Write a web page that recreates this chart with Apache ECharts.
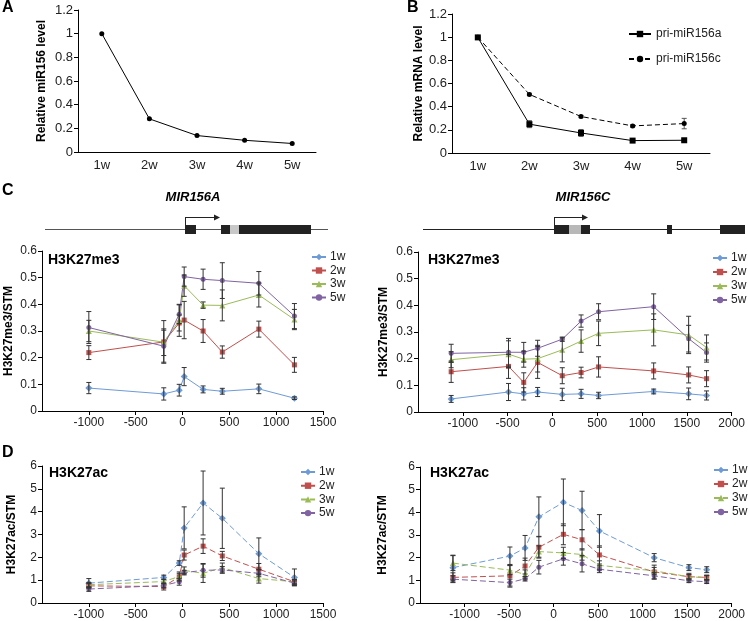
<!DOCTYPE html>
<html><head><meta charset="utf-8">
<script src="https://cdn.jsdelivr.net/npm/echarts@6/dist/echarts.min.js"></script>
<style>html,body{margin:0;padding:0;background:#fff}#c{width:748px;height:621px}</style>
</head><body><div id="c"></div>
<script>
// ---- Panel A ----
const weeks = ['1w','2w','3w','4w','5w'];
const mir156 = [1.0, 0.28, 0.139, 0.099, 0.072];
// ---- Panel B ----
const priA = [0.998, 0.249, 0.173, 0.107, 0.11];
const priAErr = [0.01, 0.03, 0.03, 0.01, 0.01];
const priC = [1.0, 0.506, 0.315, 0.234, 0.254];
const priCErr = [0.01, 0.01, 0.01, 0.01, 0.045];
// ---- positions (bp) ----
const posA = [-1000, -200, -35, 18, 220, 425, 815, 1195];
const posC = [-1130, -490, -320, -165, 110, 320, 515, 1130, 1520, 1720];
const groups = ['1w','2w','3w','5w'];
// ---- Panel C left: H3K27me3 at MIR156A ----
const me3A_1w = [0.086, 0.064, 0.078, 0.129, 0.081, 0.074, 0.083, 0.048];
const me3A_1wErr = [0.021, 0.023, 0.022, 0.034, 0.013, 0.011, 0.018, 0.005];
const me3A_2w = [0.219, 0.259, 0.33, 0.341, 0.300, 0.221, 0.307, 0.173];
const me3A_2wErr = [0.026, 0.08, 0.03, 0.07, 0.043, 0.023, 0.03, 0.028];
const me3A_3w = [0.300, 0.258, 0.340, 0.470, 0.397, 0.396, 0.435, 0.343];
const me3A_3wErr = [0.04, 0.05, 0.06, 0.04, 0.012, 0.058, 0.045, 0.038];
const me3A_5w = [0.313, 0.243, 0.363, 0.504, 0.494, 0.489, 0.479, 0.356];
const me3A_5wErr = [0.06, 0.06, 0.035, 0.036, 0.038, 0.067, 0.044, 0.047];
// ---- Panel C right: H3K27me3 at MIR156C ----
const me3C_1w = [0.049, 0.075, 0.068, 0.075, 0.066, 0.068, 0.062, 0.077, 0.068, 0.062];
const me3C_1wErr = [0.013, 0.032, 0.023, 0.017, 0.023, 0.017, 0.012, 0.009, 0.022, 0.017];
const me3C_2w = [0.151, 0.171, 0.111, 0.186, 0.136, 0.148, 0.169, 0.154, 0.139, 0.125];
const me3C_2wErr = [0.04, 0.045, 0.036, 0.06, 0.03, 0.02, 0.038, 0.03, 0.03, 0.03];
const me3C_3w = [0.196, 0.217, 0.198, 0.200, 0.233, 0.266, 0.295, 0.308, 0.289, 0.242];
const me3C_3wErr = [0.03, 0.05, 0.03, 0.05, 0.045, 0.042, 0.046, 0.06, 0.07, 0.047];
const me3C_5w = [0.220, 0.224, 0.224, 0.239, 0.273, 0.341, 0.376, 0.395, 0.275, 0.223];
const me3C_5wErr = [0.034, 0.052, 0.037, 0.03, 0.008, 0.023, 0.03, 0.048, 0.05, 0.036];
// ---- Panel D left: H3K27ac at MIR156A ----
const acA_1w = [0.87, 1.12, 1.75, 3.29, 4.38, 3.71, 2.16, 1.12];
const acA_1wErr = [0.2, 0.1, 0.1, 0.92, 1.4, 1.32, 0.69, 0.37];
const acA_2w = [0.75, 0.72, 1.15, 2.10, 2.49, 2.06, 1.48, 0.93];
const acA_2wErr = [0.1, 0.15, 0.15, 0.22, 0.32, 0.2, 0.25, 0.1];
const acA_3w = [0.80, 0.94, 1.16, 1.43, 1.30, 1.55, 1.07, 0.93];
const acA_3wErr = [0.1, 0.1, 0.2, 0.15, 0.4, 0.2, 0.2, 0.1];
const acA_5w = [0.61, 0.77, 0.93, 1.33, 1.43, 1.45, 1.30, 0.87];
const acA_5wErr = [0.1, 0.1, 0.15, 0.1, 0.3, 0.15, 0.15, 0.1];
// ---- Panel D right: H3K27ac at MIR156C ----
const acC_1w = [1.56, 2.07, 2.43, 3.80, 4.44, 4.08, 3.18, 2.00, 1.56, 1.47];
const acC_1wErr = [0.55, 0.4, 0.55, 0.88, 1.03, 0.85, 0.72, 0.18, 0.13, 0.13];
const acC_2w = [1.13, 1.20, 1.63, 2.46, 3.03, 2.79, 2.12, 1.37, 1.16, 1.13];
const acC_2wErr = [0.2, 0.5, 0.35, 0.48, 0.46, 0.45, 0.4, 0.3, 0.15, 0.1];
const acC_3w = [1.76, 1.45, 1.26, 2.27, 2.21, 2.14, 1.66, 1.42, 1.16, 1.11];
const acC_3wErr = [0.33, 0.2, 0.2, 0.25, 0.25, 0.25, 0.2, 0.15, 0.1, 0.1];
const acC_5w = [1.05, 0.90, 1.07, 1.58, 1.95, 1.73, 1.49, 1.20, 0.98, 0.94];
const acC_5wErr = [0.15, 0.15, 0.1, 0.3, 0.28, 0.36, 0.15, 0.15, 0.08, 0.08];

// ---------- build ----------
const FONT = 'Liberation Sans, Arial, sans-serif';
const colors = ['#6E9BD6', '#C0504D', '#9BBB59', '#8064A2'];
const symbols = ['diamond', 'rect', 'triangle', 'circle'];
const symSize = [7, 5, 6, 5];
const ERR = '#333333';

const chart = echarts.init(document.getElementById('c'));

const grids = [
  {left: 78, top: 10, width: 238, height: 142},
  {left: 452, top: 14, width: 258, height: 139},
  {left: 42, top: 251, width: 281, height: 160},
  {left: 418, top: 252, width: 314, height: 160},
  {left: 42, top: 466, width: 281, height: 138},
  {left: 420, top: 467, width: 312, height: 138}
];

function mkLine() { return {show: true, onZero: false, lineStyle: {color: '#000', width: 1}}; }
function mkTick() { return {show: true, inside: false, length: 4, lineStyle: {color: '#000'}}; }

function yAx(gi, max, interval, name, nameGap, fs) {
  return {type: 'value', gridIndex: gi, min: 0, max: max, interval: interval,
    name: name, nameLocation: 'middle', nameGap: nameGap, nameRotate: 90,
    nameTextStyle: {fontFamily: FONT, fontWeight: 'bold', fontSize: 12, color: '#000'},
    axisLine: mkLine(), axisTick: mkTick(), splitLine: {show: false},
    axisLabel: {fontFamily: FONT, fontSize: fs, color: '#222', margin: 5}};
}
function xVal(gi, max) {
  return {type: 'value', gridIndex: gi, min: -1500, max: max, interval: 500,
    axisLine: mkLine(), axisTick: mkTick(), splitLine: {show: false},
    axisLabel: {fontFamily: FONT, fontSize: 12, color: '#222', margin: 6, showMinLabel: false,
      formatter: v => String(v)}};
}
function xCat(gi) {
  return {type: 'category', gridIndex: gi, data: weeks, boundaryGap: true,
    axisLine: mkLine(), axisTick: {show: false}, splitLine: {show: false},
    axisLabel: {fontFamily: FONT, fontSize: 13, color: '#222', margin: 7}};
}

const xAxes = [xCat(0), xCat(1), xVal(2, 1500), xVal(3, 2000), xVal(4, 1500), xVal(5, 2000)];
const yAxes = [
  yAx(0, 1.2, 0.2, 'Relative miR156 level', 30, 13),
  yAx(1, 1.2, 0.2, 'Relative mRNA level', 27, 13),
  yAx(2, 0.6, 0.1, 'H3K27me3/STM', 27, 12),
  yAx(3, 0.6, 0.1, 'H3K27me3/STM', 28, 12),
  yAx(4, 6, 1, 'H3K27ac/STM', 24, 12),
  yAx(5, 6, 1, 'H3K27ac/STM', 31, 12)
];

function errSeries(gi, xs, ys, es, color) {
  return {type: 'custom', xAxisIndex: gi, yAxisIndex: gi, z: 3, silent: true,
    data: xs.map((x, i) => [x, ys[i], es[i]]),
    encode: {x: 0, y: 1},
    renderItem: function (params, api) {
      const x = api.value(0), y = api.value(1), e = api.value(2);
      const t = api.coord([x, y + e]), b = api.coord([x, y - e]);
      const w = 2.5;
      const st = {stroke: color || ERR, lineWidth: 1};
      return {type: 'group', children: [
        {type: 'line', shape: {x1: t[0], y1: t[1], x2: b[0], y2: b[1]}, style: st},
        {type: 'line', shape: {x1: t[0] - w, y1: t[1], x2: t[0] + w, y2: t[1]}, style: st},
        {type: 'line', shape: {x1: b[0] - w, y1: b[1], x2: b[0] + w, y2: b[1]}, style: st}
      ]};
    }};
}

const series = [];
// Panel A
series.push({type: 'line', name: 'A', xAxisIndex: 0, yAxisIndex: 0, data: mir156,
  symbol: 'circle', symbolSize: 5, itemStyle: {color: '#000'}, lineStyle: {color: '#000', width: 1}});
// Panel B
series.push(errSeries(1, [0,1,2,3,4], priA, priAErr, '#555'));
series.push(errSeries(1, [0,1,2,3,4], priC, priCErr, '#555'));
series.push({type: 'line', name: 'pri-miR156a', xAxisIndex: 1, yAxisIndex: 1, data: priA, z: 4,
  symbol: 'rect', symbolSize: 6, itemStyle: {color: '#000'}, lineStyle: {color: '#000', width: 1}});
series.push({type: 'line', name: 'pri-miR156c', xAxisIndex: 1, yAxisIndex: 1, data: priC, z: 4,
  symbol: 'circle', symbolSize: 5, itemStyle: {color: '#000'}, lineStyle: {color: '#000', width: 1, type: [5, 3]}});

const panels = [
  {gi: 2, tag: 'Cl', xs: posA, dashed: false, vals: [me3A_1w, me3A_2w, me3A_3w, me3A_5w], errs: [me3A_1wErr, me3A_2wErr, me3A_3wErr, me3A_5wErr]},
  {gi: 3, tag: 'Cr', xs: posC, dashed: false, vals: [me3C_1w, me3C_2w, me3C_3w, me3C_5w], errs: [me3C_1wErr, me3C_2wErr, me3C_3wErr, me3C_5wErr]},
  {gi: 4, tag: 'Dl', xs: posA, dashed: true, vals: [acA_1w, acA_2w, acA_3w, acA_5w], errs: [acA_1wErr, acA_2wErr, acA_3wErr, acA_5wErr]},
  {gi: 5, tag: 'Dr', xs: posC, dashed: true, vals: [acC_1w, acC_2w, acC_3w, acC_5w], errs: [acC_1wErr, acC_2wErr, acC_3wErr, acC_5wErr]}
];
panels.forEach(p => {
  p.vals.forEach((v, k) => {
    series.push({type: 'line', name: p.tag + '|' + groups[k], xAxisIndex: p.gi, yAxisIndex: p.gi, z: 2,
      data: p.xs.map((x, i) => [x, v[i]]),
      symbol: symbols[k], symbolSize: symSize[k],
      itemStyle: {color: colors[k]},
      lineStyle: {color: colors[k], width: 1, type: p.dashed ? [6, 3] : 'solid'}});
  });
  p.vals.forEach((v, k) => { series.push(errSeries(p.gi, p.xs, v, p.errs[k])); });
});

function leg(tag, left, top, gap) {
  return {orient: 'vertical', left: left, top: top, padding: 0, itemGap: gap,
    itemWidth: 14, itemHeight: 8, selectedMode: false,
    data: groups.map(g => tag + '|' + g),
    formatter: n => n.split('|')[1],
    textStyle: {fontFamily: FONT, fontSize: 12, color: '#222', padding: [0, 0, 0, -1]}};
}
const legends = [
  {orient: 'vertical', left: 628, top: 28, padding: 0, itemGap: 13, itemWidth: 22, itemHeight: 8,
   selectedMode: false, data: ['pri-miR156a', 'pri-miR156c'],
   textStyle: {fontFamily: FONT, fontSize: 12, color: '#222'}},
  leg('Cl', 311, 251, 1.5),
  leg('Cr', 712, 252, 2),
  leg('Dl', 300, 466, 1.7),
  leg('Dr', 713, 464, 2)
];

function txt(x, y, s, size, opts) {
  return {type: 'text', x: x, y: y, style: Object.assign({text: s, fontFamily: FONT,
    fontSize: size, fontWeight: 'bold', fill: '#000', textVerticalAlign: 'middle'}, opts || {})};
}
const G = '#222';
const graphics = [
  txt(2, 8, 'A', 16), txt(407, 8, 'B', 16), txt(2, 191, 'C', 16), txt(2, 453, 'D', 16),
  txt(193, 197, 'MIR156A', 13, {fontStyle: 'italic', textAlign: 'center'}),
  txt(583, 197, 'MIR156C', 13, {fontStyle: 'italic', textAlign: 'center'}),
  txt(48, 260, 'H3K27me3', 14), txt(428, 260, 'H3K27me3', 14),
  txt(49, 473, 'H3K27ac', 14), txt(430, 473, 'H3K27ac', 14),
  // gene diagram MIR156A
  {type: 'rect', shape: {x: 45, y: 229, width: 283, height: 1}, style: {fill: '#555'}},
  {type: 'rect', shape: {x: 185, y: 225, width: 11, height: 9}, style: {fill: G}},
  {type: 'rect', shape: {x: 221, y: 225, width: 90, height: 9}, style: {fill: G}},
  {type: 'rect', shape: {x: 230, y: 225, width: 9, height: 9}, style: {fill: '#c8c8c8'}},
  {type: 'rect', shape: {x: 185, y: 217, width: 1, height: 8}, style: {fill: G}},
  {type: 'rect', shape: {x: 185, y: 217, width: 31, height: 1}, style: {fill: G}},
  {type: 'polygon', shape: {points: [[220, 217.5], [214, 214.5], [214, 220.5]]}, style: {fill: G}},
  // gene diagram MIR156C
  {type: 'rect', shape: {x: 423, y: 229, width: 322, height: 1}, style: {fill: '#222'}},
  {type: 'rect', shape: {x: 554, y: 225, width: 36, height: 9}, style: {fill: G}},
  {type: 'rect', shape: {x: 569, y: 225, width: 12, height: 9}, style: {fill: '#b8b8b8'}},
  {type: 'rect', shape: {x: 667, y: 225, width: 5, height: 9}, style: {fill: G}},
  {type: 'rect', shape: {x: 720, y: 225, width: 25, height: 9}, style: {fill: G}},
  {type: 'rect', shape: {x: 554, y: 217, width: 1, height: 8}, style: {fill: G}},
  {type: 'rect', shape: {x: 554, y: 217, width: 30, height: 1}, style: {fill: G}},
  {type: 'polygon', shape: {points: [[588, 217.5], [582, 214.5], [582, 220.5]]}, style: {fill: G}}
];

chart.setOption({
  animation: false,
  backgroundColor: '#fff',
  textStyle: {fontFamily: FONT},
  grid: grids, xAxis: xAxes, yAxis: yAxes,
  legend: legends, series: series, graphic: graphics
});
</script></body></html>
